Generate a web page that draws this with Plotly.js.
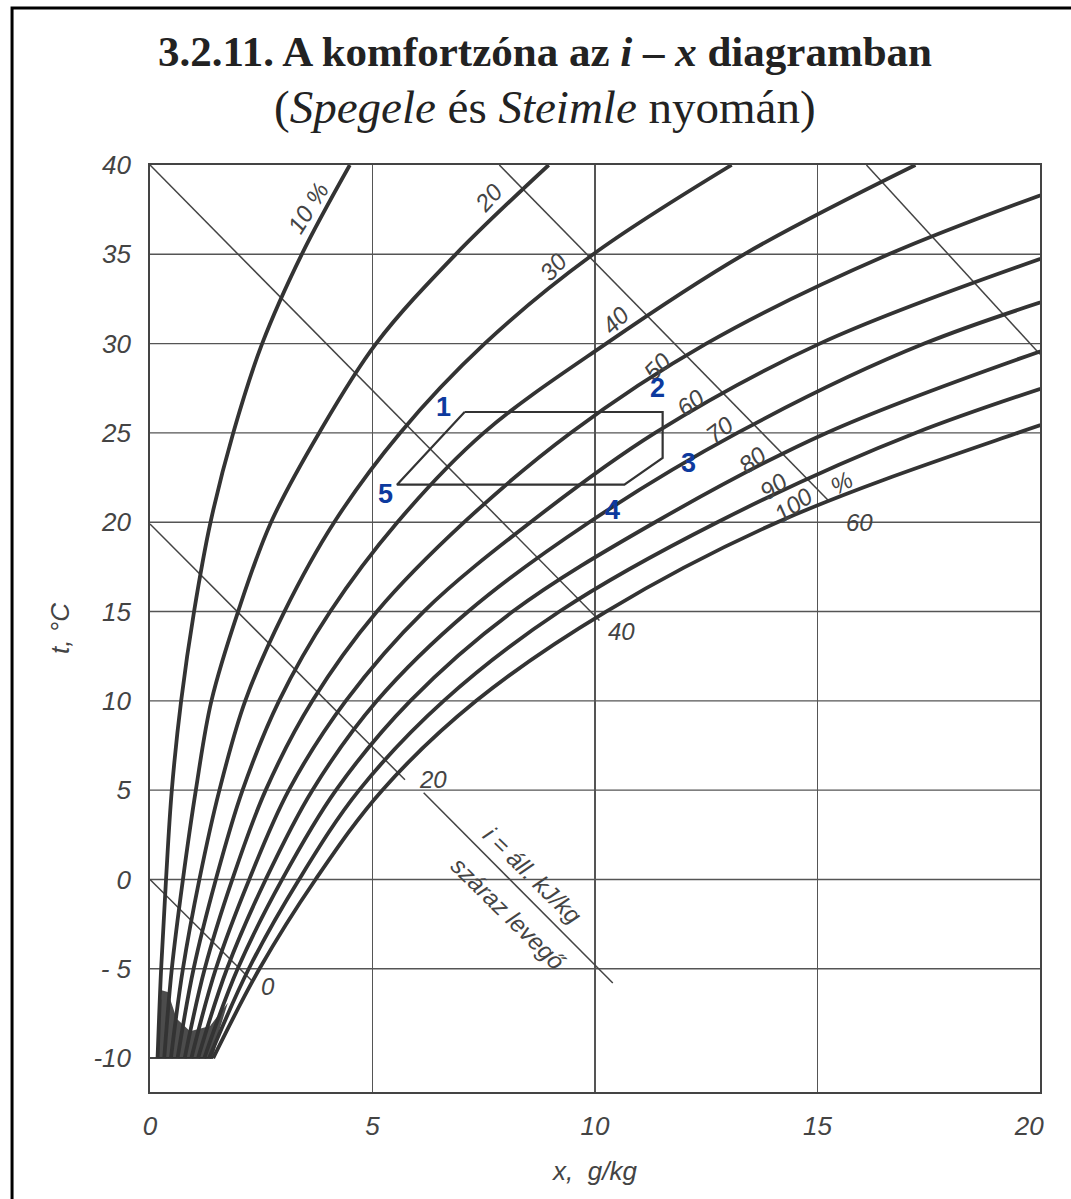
<!DOCTYPE html>
<html>
<head>
<meta charset="utf-8">
<script src="https://cdn.plot.ly/plotly-3.0.1.min.js"></script>
<style>
html,body{margin:0;padding:0;background:#fff;}
#chart{width:1071px;height:1199px;}
</style>
</head>
<body>
<div id="chart"></div>
<script>
// ---- data ----
const tempT = [-10, -5, 0, 5, 10, 15, 20, 25, 30, 35, 40];
const rhLabels = ["10 %", "20", "30", "40", "50", "60", "70", "80", "90", "100"];
const rh10  = [0.17, 0.25, 0.36, 0.49, 0.70, 0.99, 1.36, 1.87, 2.52, 3.41, 4.49];
const rh20  = [0.32, 0.49, 0.74, 1.03, 1.38, 1.98, 2.72, 3.80, 5.08, 6.87, 8.96];
const rh30  = [0.47, 0.74, 1.11, 1.56, 2.14, 3.02, 4.14, 5.62, 7.52, 9.96, 13.07];
const rh40  = [0.62, 0.98, 1.48, 2.08, 2.90, 4.05, 5.56, 7.50, 10.25, 13.35, 17.2];
const rh50  = [0.78, 1.23, 1.85, 2.60, 3.65, 5.10, 7.06, 9.45, 12.5, 16.6, 21.9];
const rh60  = [0.93, 1.48, 2.23, 3.12, 4.40, 6.15, 8.55, 11.35, 15.05, 20.3];
const rh70  = [1.08, 1.73, 2.60, 3.65, 5.10, 7.15, 9.87, 13.2, 17.4, 23.5];
const rh80  = [1.22, 1.97, 2.97, 4.18, 5.85, 8.15, 11.35, 15.2, 20.5];
const rh90  = [1.33, 2.22, 3.35, 4.70, 6.60, 9.20, 12.75, 17.2, 23.2];
const rh100 = [1.42, 2.46, 3.72, 5.22, 7.33, 10.25, 14.1, 19.5, 25.8];

// enthalpy lines i = const (kJ/kg): x and t along each line (null = break for label)
const enthValues = [0, 20, 40, 60, 80];
const enth0X  = [0, 2.3];          const enth0T  = [0, -5.7];
const enth20X = [0, 5.73, null, 6.15, 10.4]; const enth20T = [19.9, 5.58, null, 4.85, -5.8];
const enth40X = [0, 10.1];         const enth40T = [40, 14.5];
const enth60X = [7.85, 15.25];     const enth60T = [40, 21.2];
const enth80X = [16.1, 20];        const enth80T = [40, 29.4];

// frozen (fog) region near -10 °C
const blobX = [0.18, 1.42, 1.55, 1.75, 1.35, 0.9, 0.6, 0.4, 0.26, 0.18];
const blobT = [-10, -10, -8.5, -6.9, -8.2, -8.5, -7.8, -6.3, -6.2, -10];

// comfort zone polygon (points 1..5)
const zoneLabels = ["1", "2", "3", "4", "5"];
const zoneX = [7.07, 11.52, 11.52, 10.66, 5.55];
const zoneT = [26.17, 26.17, 23.6, 22.1, 22.1];

// axes
const xTicks = [0, 5, 10, 15, 20];
const xTickText = ["0", "5", "10", "15", "20\u00a0\u00a0\u00a0"];
const yTicks = [-10, -5, 0, 5, 10, 15, 20, 25, 30, 35, 40];
const yTickText = ["-10", "- 5", "0", "5", "10", "15", "20", "25", "30", "35", "40"];
const gridT = [-5, 0, 5, 10, 15, 20, 25, 30, 35];

// ---- drawing ----
const ink = '#333';
const tickFont = {family: 'Liberation Sans, Arial, sans-serif', size: 26, color: '#444', style: 'italic'};
const lblFont = {family: 'Liberation Sans, Arial, sans-serif', size: 24, color: '#444', style: 'italic'};

const rhSeries = [rh10, rh20, rh30, rh40, rh50, rh60, rh70, rh80, rh90, rh100];
const traces = [];

traces.push({x: blobX, y: blobT, mode: 'lines', fill: 'toself',
  fillcolor: 'rgba(45,45,45,0.85)', line: {width: 0}, hoverinfo: 'skip', showlegend: false});

const enthX = [enth0X, enth20X, enth40X, enth60X, enth80X];
const enthT = [enth0T, enth20T, enth40T, enth60T, enth80T];
enthX.forEach((xs, k) => traces.push({x: xs, y: enthT[k], mode: 'lines',
  line: {color: '#444', width: 1.5}, connectgaps: false, hoverinfo: 'skip', showlegend: false,
  name: 'i=' + enthValues[k]}));

rhSeries.forEach((xs, k) => traces.push({x: xs, y: tempT.slice(0, xs.length), mode: 'lines',
  line: {color: ink, width: 3.8, shape: 'spline', smoothing: 1}, hoverinfo: 'skip',
  showlegend: false, name: rhLabels[k]}));

traces.push({x: zoneX.concat([zoneX[0]]), y: zoneT.concat([zoneT[0]]), mode: 'lines',
  line: {color: ink, width: 2.2}, hoverinfo: 'skip', showlegend: false});

// grid lines (horizontal) as shapes built from arrays
const shapes = gridT.map(t => ({type: 'line', xref: 'x', yref: 'y', x0: 0, x1: 20, y0: t, y1: t,
  line: {color: '#555', width: 1.4}, layer: 'below'}));
shapes.push({type: 'line', xref: 'x', yref: 'y', x0: 0, x1: rh100[0], y0: -10, y1: -10,
  line: {color: '#444', width: 2}, layer: 'below'});
// page frame (left and top edges of the scanned page)
shapes.push({type: 'rect', xref: 'paper', yref: 'paper', x0: -0.155, x1: 1.3, y0: -0.3, y1: 1.1694,
  line: {color: '#000', width: 3}});

const annotations = [];
// title lines
annotations.push({xref: 'paper', yref: 'paper', x: 0.444, y: 1.150, showarrow: false,
  text: '<b>3.2.11. A komfortzóna az <i>i</i> – <i>x</i> diagramban</b>',
  font: {family: 'Liberation Serif, Times New Roman, serif', size: 43, color: '#222'}});
annotations.push({xref: 'paper', yref: 'paper', x: 0.444, y: 1.093, showarrow: false,
  text: '(<i>Spegele</i> és <i>Steimle</i> nyomán)',
  font: {family: 'Liberation Serif, Times New Roman, serif', size: 47, color: '#222'}});

// relative humidity labels
const rhLblX = [3.56, 7.6, 9.07, 10.45, 11.4, 12.15, 12.8, 13.55, 14.0, 14.47];
const rhLblT = [37.6, 38.2, 34.3, 31.3, 28.7, 26.7, 25.2, 23.5, 22.0, 21.0];
const rhLblA = [-58, -48, -48, -45, -45, -37, -37, -38, -35, -35];
rhLabels.forEach((s, k) => annotations.push({x: rhLblX[k], y: rhLblT[k], text: s, showarrow: false,
  textangle: rhLblA[k], font: lblFont}));
annotations.push({x: 15.55, y: 22.2, text: '%', showarrow: false, textangle: -30, font: lblFont});

// enthalpy labels
const enthLblX = [2.65, 6.35, 10.6, 15.95, null];
const enthLblT = [-6.0, 5.6, 13.9, 20.0, null];
enthValues.forEach((v, k) => { if (enthLblX[k] !== null) annotations.push({x: enthLblX[k], y: enthLblT[k],
  text: String(v), showarrow: false, font: lblFont}); });
annotations.push({x: 8.6, y: 0.2, text: 'i = áll. kJ/kg', showarrow: false, textangle: 44.5, font: lblFont});
annotations.push({x: 8.05, y: -1.9, text: 'száraz levegő', showarrow: false, textangle: 44.5, font: lblFont});

// comfort zone point labels
const zoneLblX = [6.6, 11.41, 12.1, 10.4, 5.29];
const zoneLblT = [26.45, 27.5, 23.3, 20.7, 21.6];
zoneLabels.forEach((s, k) => annotations.push({x: zoneLblX[k], y: zoneLblT[k], text: '<b>' + s + '</b>',
  showarrow: false, font: {family: 'Liberation Sans, Arial, sans-serif', size: 27, color: '#0d3a9e'}}));

const layout = {
  width: 1071, height: 1199,
  margin: {l: 150, r: 31, t: 165, b: 107},
  paper_bgcolor: '#fff', plot_bgcolor: '#fff',
  showlegend: false,
  xaxis: {range: [0, 20], tickvals: xTicks, ticktext: xTickText, showgrid: true,
    gridcolor: '#555', gridwidth: 1.4, zeroline: false, showline: true, mirror: true,
    linecolor: '#444', linewidth: 1.8, ticks: '', tickfont: tickFont, ticklabelstandoff: 10,
    title: {text: 'x,  g/kg', font: tickFont, standoff: 22}, fixedrange: true},
  yaxis: {range: [-11.9, 40], tickvals: yTicks, ticktext: yTickText, showgrid: false,
    zeroline: false, showline: true, mirror: true, linecolor: '#444', linewidth: 1.8,
    ticks: '', tickfont: tickFont, ticklabelstandoff: 12,
    title: {text: 't, °C', font: tickFont, standoff: 16}, fixedrange: true},
  shapes: shapes,
  annotations: annotations
};

Plotly.newPlot('chart', traces, layout, {displayModeBar: false, staticPlot: true});
</script>
</body>
</html>
